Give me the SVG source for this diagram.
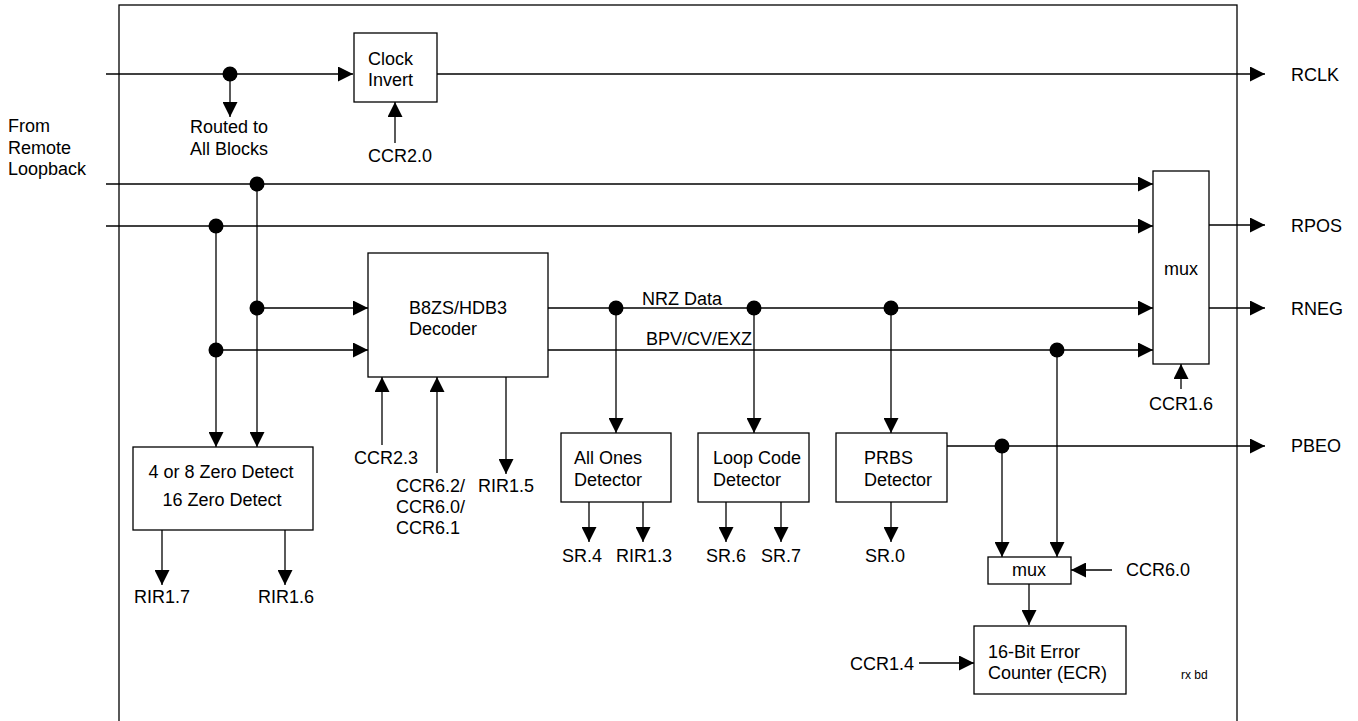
<svg xmlns="http://www.w3.org/2000/svg" width="1358" height="721" viewBox="0 0 1358 721">
<style>
text{font-family:"Liberation Sans",Arial,sans-serif;font-size:18px;fill:#000}
.c{text-anchor:middle}
.box{fill:#fff;stroke:#000;stroke-width:1.3}
.w{fill:none;stroke:#000;stroke-width:1.3}
.a{marker-end:url(#arr)}
.dot{fill:#000}
</style>
<defs>
<marker id="arr" markerUnits="userSpaceOnUse" markerWidth="15" markerHeight="15" refX="15" refY="7.5" orient="auto">
<path d="M0,0 L15,7.5 L0,15 z" fill="#000"/>
</marker>
</defs>
<rect width="1358" height="721" fill="#fff"/>
<rect id="frame" x="119" y="5" width="1118" height="730" fill="none" stroke="#000" stroke-width="1.3"/>

<g id="connectors">
<path class="w a" d="M106,74 H353"/>
<path class="w a" d="M230,74 V117"/>
<path class="w a" d="M395,143 V102"/>
<path class="w a" d="M437,74 H1265"/>
<path class="w a" d="M106,184 H1153"/>
<path class="w a" d="M106,226 H1153"/>
<path class="w a" d="M216,226 V447"/>
<path class="w a" d="M257,184 V447"/>
<path class="w a" d="M257,308 H368"/>
<path class="w a" d="M216,350 H368"/>
<path class="w a" d="M548,308 H1153"/>
<path class="w a" d="M548,350 H1153"/>
<path class="w a" d="M616,308 V433"/>
<path class="w a" d="M754,308 V433"/>
<path class="w a" d="M891,308 V433"/>
<path class="w a" d="M382,445 V377"/>
<path class="w a" d="M437,473 V377"/>
<path class="w a" d="M506,377 V474"/>
<path class="w a" d="M162,530 V585"/>
<path class="w a" d="M285,530 V585"/>
<path class="w a" d="M589,502 V542"/>
<path class="w a" d="M643,502 V542"/>
<path class="w a" d="M726,502 V542"/>
<path class="w a" d="M781,502 V542"/>
<path class="w a" d="M891,502 V542"/>
<path class="w a" d="M1209,225 H1265"/>
<path class="w a" d="M1209,308 H1265"/>
<path class="w a" d="M1181,389 V364"/>
<path class="w a" d="M947,446 H1265"/>
<path class="w a" d="M1002,446 V557"/>
<path class="w a" d="M1057,350 V557"/>
<path class="w a" d="M1112,570 H1071"/>
<path class="w a" d="M1029,584 V625"/>
<path class="w a" d="M919,663 H974"/>
<circle class="dot" cx="230" cy="74" r="7.5"/>
<circle class="dot" cx="257" cy="184" r="7.5"/>
<circle class="dot" cx="216" cy="226" r="7.5"/>
<circle class="dot" cx="257" cy="308" r="7.5"/>
<circle class="dot" cx="216" cy="350" r="7.5"/>
<circle class="dot" cx="616" cy="308" r="7.5"/>
<circle class="dot" cx="754" cy="308" r="7.5"/>
<circle class="dot" cx="891" cy="308" r="7.5"/>
<circle class="dot" cx="1057" cy="350" r="7.5"/>
<circle class="dot" cx="1002" cy="446" r="7.5"/>
</g>

<g id="labels">
<text x="8" y="132">From</text>
<text x="8" y="154">Remote</text>
<text x="8" y="175">Loopback</text>
<text class="c" x="229" y="133">Routed to</text>
<text class="c" x="229" y="155">All Blocks</text>
<text class="c" x="400" y="162">CCR2.0</text>
<text x="1291" y="81">RCLK</text>
<text x="1291" y="232">RPOS</text>
<text x="1291" y="315">RNEG</text>
<text x="1291" y="452">PBEO</text>
<text class="c" x="1181" y="410">CCR1.6</text>
<text x="642" y="305">NRZ Data</text>
<text x="646" y="345">BPV/CV/EXZ</text>
<text x="354" y="464">CCR2.3</text>
<text x="396" y="492">CCR6.2/</text>
<text x="396" y="513">CCR6.0/</text>
<text x="396" y="534">CCR6.1</text>
<text class="c" x="506" y="492">RIR1.5</text>
<text class="c" x="162" y="603">RIR1.7</text>
<text class="c" x="286" y="603">RIR1.6</text>
<text class="c" x="582" y="562">SR.4</text>
<text class="c" x="644" y="562">RIR1.3</text>
<text class="c" x="726" y="562">SR.6</text>
<text class="c" x="781" y="562">SR.7</text>
<text class="c" x="885" y="562">SR.0</text>
<text x="1126" y="576">CCR6.0</text>
<text x="850" y="670">CCR1.4</text>
<text x="1181" y="679" style="font-size:12px">rx bd</text>
</g>

<g id="clock-invert">
<rect class="box" x="354" y="33" width="83" height="69"/>
<text x="368" y="65">Clock</text>
<text x="368" y="86">Invert</text>
</g>
<g id="decoder">
<rect class="box" x="368" y="253" width="180" height="124"/>
<text x="409" y="314">B8ZS/HDB3</text>
<text x="409" y="335">Decoder</text>
</g>
<g id="zero-detect">
<rect class="box" x="133" y="447" width="180" height="83"/>
<text class="c" x="221" y="478">4 or 8 Zero Detect</text>
<text class="c" x="222" y="506">16 Zero Detect</text>
</g>
<g id="all-ones">
<rect class="box" x="561" y="433" width="110" height="69"/>
<text x="574" y="464">All Ones</text>
<text x="574" y="486">Detector</text>
</g>
<g id="loop-code">
<rect class="box" x="698" y="433" width="111" height="69"/>
<text x="713" y="464">Loop Code</text>
<text x="713" y="486">Detector</text>
</g>
<g id="prbs">
<rect class="box" x="836" y="433" width="111" height="69"/>
<text x="864" y="464">PRBS</text>
<text x="864" y="486">Detector</text>
</g>
<g id="mux-main">
<rect class="box" x="1153" y="171" width="56" height="193"/>
<text class="c" x="1181" y="275">mux</text>
</g>
<g id="mux-ecr">
<rect class="box" x="988" y="557" width="83" height="27"/>
<text class="c" x="1029" y="576">mux</text>
</g>
<g id="ecr">
<rect class="box" x="974" y="626" width="152" height="68"/>
<text x="988" y="658">16-Bit Error</text>
<text x="988" y="679">Counter (ECR)</text>
</g>
</svg>
